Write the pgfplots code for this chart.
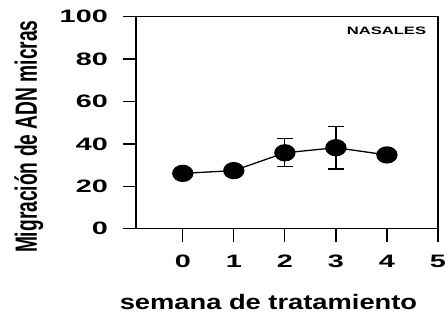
\documentclass[border=0pt]{standalone}
\usepackage{fontspec}
\setmainfont{Liberation Sans}
\usepackage{graphicx}
\usepackage{pgfplots}
\usepackage{pgfplotstable}
\pgfplotsset{compat=1.18}
\newcommand\sx[1]{\scalebox{1.6}[1]{#1}}
\pgfplotstableread{
x y ep em
0 26.1 0 0
1 27.4 0 0
2 35.8 6.8 6.6
3 38.2 9.9 10.0
4 34.8 0 0
}\datatable
\begin{document}
\begin{tikzpicture}
\begin{axis}[
  at={(0,0)}, anchor=south west,
  scale only axis, width=302bp, height=212bp,
  xmin=-0.916, xmax=5, ymin=0, ymax=100,
  axis line style={line width=1.2bp},
  xtick={0,1,2,3,4,5}, xticklabels={\sx{0},\sx{1},\sx{2},\sx{3},\sx{4},\sx{5}},
  ytick={0,20,40,60,80,100}, yticklabels={\sx{0},\sx{20},\sx{40},\sx{60},\sx{80},\sx{100}},
  xtick pos=bottom, ytick pos=left,
  tick align=outside, major tick length=13bp,
  tick style={line width=1.2bp, black},
  ticklabel style={font=\bfseries\fontsize{18bp}{20bp}\selectfont},
  xticklabel style={inner sep=0pt, yshift=-13bp},
  yticklabel style={inner sep=0pt, xshift=-15bp},
  clip=false,
]
\addplot[black, line width=1.3bp, mark=*, mark size=8bp, mark options={xscale=1.25, fill=black},
  error bars/.cd, y dir=both, y explicit,
  error bar style={line width=1.2bp, black},
  error mark options={rotate=90, mark size=8bp, line width=1.2bp, black}]
  table[x=x, y=y, y error plus=ep, y error minus=em]{\datatable};
\end{axis}
\node[anchor=center, font=\bfseries\fontsize{10.7bp}{12bp}\selectfont] at (250.5bp,198.2bp) {\scalebox{1.55}[1]{NASALES}};
\node[anchor=base, font=\bfseries\fontsize{21bp}{24bp}\selectfont] at (132.5bp,-80.3bp) {\scalebox{1.3}[1]{semana de tratamiento}};
\node[anchor=base, rotate=90, font=\bfseries\fontsize{19.2bp}{24bp}\selectfont] at (-99bp,92bp) {\scalebox{1}[1.6]{Migración de ADN micras}};
\pgfresetboundingbox
\path[use as bounding box] (-136bp,-83.3bp) rectangle (312bp,228.7bp);
\end{tikzpicture}
\end{document}
